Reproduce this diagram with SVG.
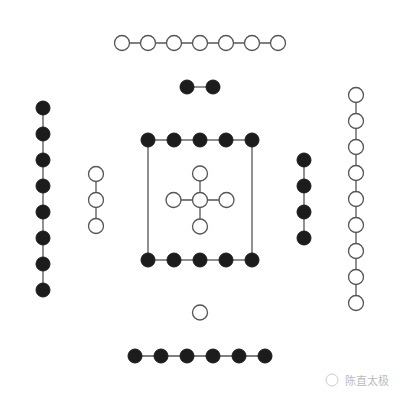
<svg xmlns="http://www.w3.org/2000/svg" width="400" height="400" viewBox="0 0 400 400">
<style>
.w{fill:#fff;stroke:#555;stroke-width:1.3}
.b{fill:#1c1c1c;stroke:#1c1c1c;stroke-width:1}
.l{stroke:#555;stroke-width:1.3;fill:none}
.wm{font-family:"Noto Sans CJK SC","Liberation Sans",sans-serif;font-size:11px;fill:#bbb}
</style>
<rect width="400" height="400" fill="#fff"/>
<g id="connectors">
<line class="l" x1="122" y1="43" x2="278" y2="43"/>
<line class="l" x1="187" y1="87" x2="213" y2="87"/>
<rect class="l" x="148" y="140" width="104" height="120"/>
<line class="l" x1="200" y1="173" x2="200" y2="227"/>
<line class="l" x1="173" y1="200" x2="227" y2="200"/>
<line class="l" x1="43" y1="108" x2="43" y2="290"/>
<line class="l" x1="96" y1="174" x2="96" y2="226"/>
<line class="l" x1="304" y1="160" x2="304" y2="238"/>
<line class="l" x1="356" y1="95" x2="356" y2="303"/>
<line class="l" x1="135" y1="356" x2="265" y2="356"/>
</g>
<g id="top-seven">
<circle class="w" cx="122" cy="43" r="7.5"/><circle class="w" cx="148" cy="43" r="7.5"/><circle class="w" cx="174" cy="43" r="7.5"/><circle class="w" cx="200" cy="43" r="7.5"/><circle class="w" cx="226" cy="43" r="7.5"/><circle class="w" cx="252" cy="43" r="7.5"/><circle class="w" cx="278" cy="43" r="7.5"/>
</g>
<g id="top-two">
<circle class="b" cx="187" cy="87" r="7"/><circle class="b" cx="213" cy="87" r="7"/>
</g>
<g id="center-ten-top">
<circle class="b" cx="148" cy="140" r="7"/><circle class="b" cx="174" cy="140" r="7"/><circle class="b" cx="200" cy="140" r="7"/><circle class="b" cx="226" cy="140" r="7"/><circle class="b" cx="252" cy="140" r="7"/>
</g>
<g id="center-ten-bottom">
<circle class="b" cx="148" cy="260" r="7"/><circle class="b" cx="174" cy="260" r="7"/><circle class="b" cx="200" cy="260" r="7"/><circle class="b" cx="226" cy="260" r="7"/><circle class="b" cx="252" cy="260" r="7"/>
</g>
<g id="center-five">
<circle class="w" cx="200" cy="173.5" r="7.5"/><circle class="w" cx="173.5" cy="200" r="7.5"/><circle class="w" cx="200" cy="200" r="7.5"/><circle class="w" cx="226.5" cy="200" r="7.5"/><circle class="w" cx="200" cy="226.5" r="7.5"/>
</g>
<g id="left-eight">
<circle class="b" cx="43" cy="108" r="7"/><circle class="b" cx="43" cy="134" r="7"/><circle class="b" cx="43" cy="160" r="7"/><circle class="b" cx="43" cy="186" r="7"/><circle class="b" cx="43" cy="212" r="7"/><circle class="b" cx="43" cy="238" r="7"/><circle class="b" cx="43" cy="264" r="7"/><circle class="b" cx="43" cy="290" r="7"/>
</g>
<g id="left-three">
<circle class="w" cx="96" cy="174" r="7.5"/><circle class="w" cx="96" cy="200" r="7.5"/><circle class="w" cx="96" cy="226" r="7.5"/>
</g>
<g id="right-four">
<circle class="b" cx="304" cy="160" r="7"/><circle class="b" cx="304" cy="186" r="7"/><circle class="b" cx="304" cy="212" r="7"/><circle class="b" cx="304" cy="238" r="7"/>
</g>
<g id="right-nine">
<circle class="w" cx="356" cy="95" r="7.5"/><circle class="w" cx="356" cy="121" r="7.5"/><circle class="w" cx="356" cy="147" r="7.5"/><circle class="w" cx="356" cy="173" r="7.5"/><circle class="w" cx="356" cy="199" r="7.5"/><circle class="w" cx="356" cy="225" r="7.5"/><circle class="w" cx="356" cy="251" r="7.5"/><circle class="w" cx="356" cy="277" r="7.5"/><circle class="w" cx="356" cy="303" r="7.5"/>
</g>
<g id="bottom-one">
<circle class="w" cx="200" cy="312.5" r="7.5"/>
</g>
<g id="bottom-six">
<circle class="b" cx="135" cy="356" r="7"/><circle class="b" cx="161" cy="356" r="7"/><circle class="b" cx="187" cy="356" r="7"/><circle class="b" cx="213" cy="356" r="7"/><circle class="b" cx="239" cy="356" r="7"/><circle class="b" cx="265" cy="356" r="7"/>
</g>
<g id="watermark">
<circle cx="332" cy="380" r="6" fill="none" stroke="#ccc" stroke-width="1"/>
<text class="wm" x="345" y="385">陈直太极</text>
</g>
</svg>
